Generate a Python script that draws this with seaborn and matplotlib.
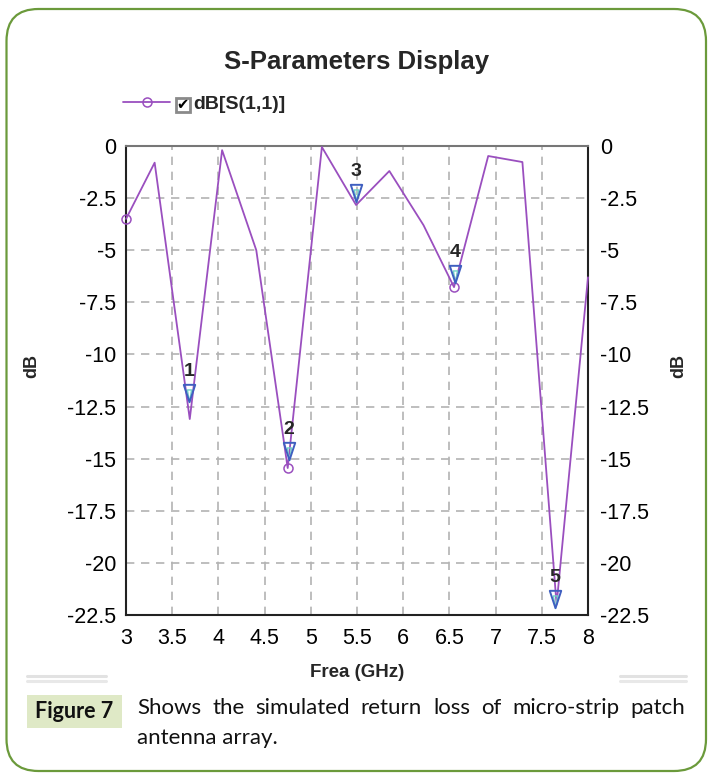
import matplotlib
matplotlib.use("Agg")
import matplotlib.pyplot as plt
import matplotlib.transforms as mtransforms
from matplotlib.patches import FancyBboxPatch, Rectangle
from matplotlib.lines import Line2D
from matplotlib.path import Path
import seaborn as sns
import pandas as pd

# ---------------- data ----------------
freq_ghz = [3.0, 3.31, 3.69, 4.04, 4.41, 4.75, 5.12, 5.49, 5.85, 6.22, 6.55, 6.92, 7.29, 7.66, 8.0]
s11_db = [-3.5, -0.8, -13.1, -0.2, -5.0, -15.45, -0.05, -2.83, -1.2, -3.8, -6.77, -0.48, -0.77, -22.0, -6.3]

marker_names = ["1", "2", "3", "4", "5"]
marker_freq = [3.68, 4.76, 5.49, 6.56, 7.64]
marker_db = [-12.28, -15.07, -2.69, -6.57, -22.17]

x_ticks = [3, 3.5, 4, 4.5, 5, 5.5, 6, 6.5, 7, 7.5, 8]
x_tick_labels = ["3", "3.5", "4", "4.5", "5", "5.5", "6", "6.5", "7", "7.5", "8"]
y_ticks = [0, -2.5, -5, -7.5, -10, -12.5, -15, -17.5, -20, -22.5]
y_tick_labels = ["0", "-2.5", "-5", "-7.5", "-10", "-12.5", "-15", "-17.5", "-20", "-22.5"]

title_text = "S-Parameters Display"
legend_label = "dB[S(1,1)]"
x_label = "Frea (GHz)"
y_label = "dB"
figure_tag = "Figure 7"
caption_line1 = "Shows the simulated return loss of micro-strip patch"
caption_line2 = "antenna array."

# ---------------- style ----------------
sns.set_theme(style="white")
plt.rcParams["font.family"] = ["Liberation Sans", "DejaVu Sans"]

W, H = 711, 778
fig = plt.figure(figsize=(W / 100, H / 100), dpi=100)
fig.patch.set_facecolor("white")


def fx(x):
    return x / W


def fy(y):
    return 1 - y / H


line_color = "#9a4fbf"

ax = fig.add_axes([fx(126), fy(615), (588 - 126) / W, (615 - 146) / H])
df = pd.DataFrame({"freq": freq_ghz, "db": s11_db})
sns.lineplot(data=df, x="freq", y="db", ax=ax, color=line_color, linewidth=1.3,
             sort=False, estimator=None, marker="o", markevery=5,
             markersize=6.5, markerfacecolor="none", markeredgecolor=line_color,
             markeredgewidth=1.1, legend=False, clip_on=False, zorder=3)

ax.set_xlim(3, 8)
ax.set_ylim(-22.5, 0)
ax.set_xticks(x_ticks)
ax.set_xticklabels(x_tick_labels)
ax.set_yticks(y_ticks)
ax.set_yticklabels(y_tick_labels)
ax.tick_params(axis="both", length=0, labelsize=15.5, colors="black")
ax.tick_params(axis="y", pad=7)
ax.tick_params(axis="x", pad=9)
ax.grid(True, linestyle=(0, (5, 4)), color="#b3b3b3", linewidth=1.2)
ax.set_xlabel(x_label, fontsize=13.5, fontweight="bold")
ax.set_ylabel(y_label, fontsize=13, fontweight="bold")
ax.xaxis.set_label_coords(0.5, -0.105)
ax.yaxis.set_label_coords(-0.186, 0.53)
for side, sp in ax.spines.items():
    sp.set_color("#222222" if side != "top" else "#777777")
    sp.set_linewidth(1.5)

ax2 = ax.twinx()
ax2.set_ylim(-22.5, 0)
ax2.set_yticks(y_ticks)
ax2.set_yticklabels(y_tick_labels)
ax2.tick_params(axis="y", length=0, labelsize=15.5, pad=9, colors="black")
ax2.set_ylabel(y_label, fontsize=13, fontweight="bold", rotation=90)
ax2.yaxis.set_label_coords(1.177, 0.53)
for sp in ax2.spines.values():
    sp.set_visible(False)
ax2.grid(False)

# markers: narrow inverted triangles, tip on the point
tri_path = Path([(-0.33, 0.5), (0.33, 0.5), (0.0, -0.5), (-0.33, 0.5)],
                [Path.MOVETO, Path.LINETO, Path.LINETO, Path.CLOSEPOLY])
inner_path = Path([(-0.15, 0.4), (0.15, 0.4), (0.0, -0.5), (-0.15, 0.4)],
                  [Path.MOVETO, Path.LINETO, Path.LINETO, Path.CLOSEPOLY])
tri_size = 12.5
tri_trans = mtransforms.offset_copy(ax.transData, fig=fig, x=0, y=tri_size / 2, units="points")
ax.plot(marker_freq, marker_db, linestyle="none", marker=inner_path, markersize=tri_size * 0.8,
        markerfacecolor="none", markeredgecolor="#6fd3c8", markeredgewidth=1.0,
        transform=mtransforms.offset_copy(ax.transData, fig=fig, x=0, y=tri_size * 0.4, units="points"),
        zorder=4, clip_on=False)
ax.plot(marker_freq, marker_db, linestyle="none", marker=tri_path, markersize=tri_size,
        markerfacecolor="none", markeredgecolor="#3f5fc0", markeredgewidth=1.4,
        transform=tri_trans, zorder=4, clip_on=False)
for name, mx, my in zip(marker_names, marker_freq, marker_db):
    ax.annotate(name, (mx, my), xytext=(0, 22), textcoords="offset points",
                ha="center", va="center", fontsize=14, fontweight="bold", zorder=5,
                annotation_clip=False)

# title
fig.text(fx(357), fy(62), title_text, ha="center", va="center",
         fontsize=18.5, fontweight="bold")

# legend
handle = Line2D([], [], color=line_color, linewidth=1.3, marker="o", markersize=6.5,
                markerfacecolor="none", markeredgecolor=line_color, markeredgewidth=1.1)
fig.legend(handles=[handle], labels=[legend_label], loc="center left",
           bbox_to_anchor=(fx(123), fy(104)), frameon=False, borderpad=0,
           borderaxespad=0, handlelength=2.42, handletextpad=1.2,
           prop={"family": "Liberation Sans", "weight": "bold", "size": 14})
fig.patches.append(Rectangle((fx(175.5), fy(111.5)), 14 / W, 14 / H, transform=fig.transFigure,
                             facecolor="white", edgecolor="#8a8a8a", linewidth=2.0))
fig.text(fx(182.5), fy(104.5), "\u2714", ha="center", va="center", fontsize=10.5,
         family=["DejaVu Sans"], color="black")

# outer rounded border
fig.patches.append(FancyBboxPatch((6.5, H - 771), 699.5, 762,
                                  boxstyle="round,pad=0,rounding_size=32",
                                  transform=mtransforms.IdentityTransform(),
                                  facecolor="none", edgecolor="#6b9a3b", linewidth=1.6))

# grey separator lines
for (x0, x1) in [(27, 106), (620, 686)]:
    for yy, c in [(675.5, "#e2e2e2"), (680.5, "#e8e8e8")]:
        fig.add_artist(Line2D([fx(x0), fx(x1)], [fy(yy), fy(yy)], color=c, linewidth=2.2,
                              transform=fig.transFigure))

# Figure tag box
fig.patches.append(Rectangle((fx(27), fy(728)), 95 / W, 33 / H, transform=fig.transFigure,
                             facecolor="#dfe9c6", edgecolor="none"))
fig.text(fx(74.5), fy(712), figure_tag, ha="center", va="center", fontsize=15.5,
         family="Lato", fontweight="bold", color="#111111")

# caption (justified first line)
renderer = fig.canvas.get_renderer()
target_w = 685 - 137
words = caption_line1.split()
fs = 16.0
while True:
    texts = [fig.text(0, 0, w, fontsize=fs, family="Lato", color="#111111", va="baseline")
             for w in words]
    widths = [t.get_window_extent(renderer).width for t in texts]
    gap = (target_w - sum(widths)) / (len(words) - 1)
    if gap >= 0.28 * fs * 100 / 72 or fs <= 11:
        break
    for t in texts:
        t.remove()
    fs -= 0.5
xpos = 137
for t, w in zip(texts, widths):
    t.set_position((fx(xpos), fy(714)))
    xpos += w + gap
fig.text(fx(137), fy(744), caption_line2, fontsize=fs, family="Lato", color="#111111",
         va="baseline")

fig.savefig("out.png", dpi=100, facecolor="white")
